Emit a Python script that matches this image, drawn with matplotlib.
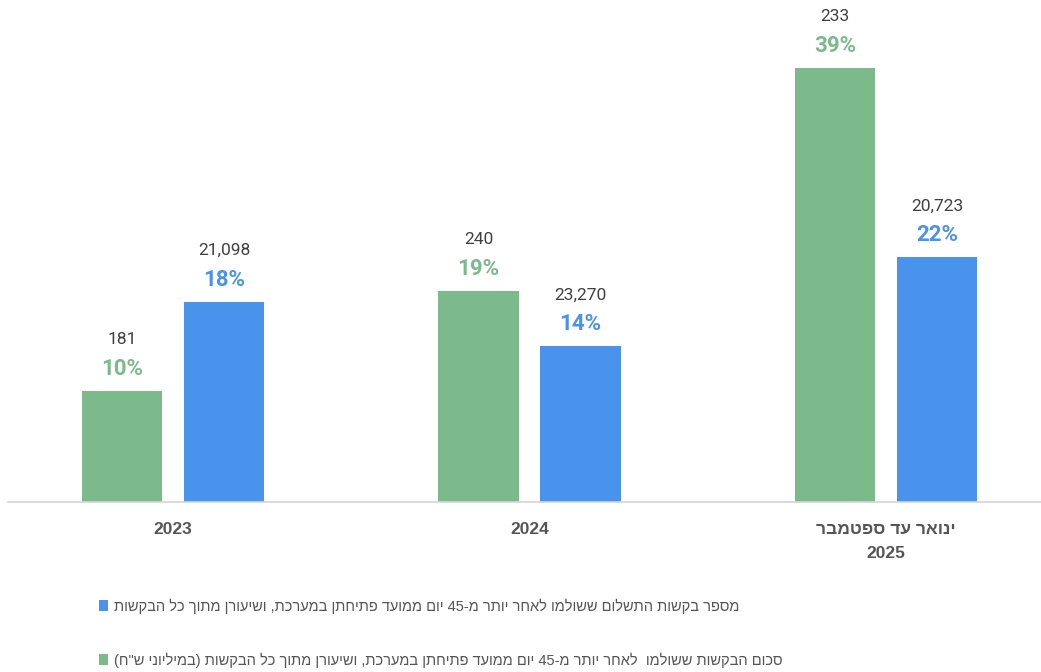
import re
import matplotlib
matplotlib.use('Agg')
import matplotlib.pyplot as plt
import numpy as np

# data
periods = ['2023', '2024', 'ינואר עד ספטמבר\n2025']
amount_millions = [181, 240, 233]      # green, in millions NIS
amount_share = [10, 19, 39]            # green, % of all requests
count_requests = [21098, 23270, 20723] # blue, number of requests
count_share = [18, 14, 22]             # blue, % of all requests

legend_count = 'מספר בקשות התשלום ששולמו לאחר יותר מ-45 יום ממועד פתיחתן במערכת, ושיעורן מתוך כל הבקשות'
legend_amount = 'סכום הבקשות ששולמו  לאחר יותר מ-45 יום ממועד פתיחתן במערכת, ושיעורן מתוך כל הבקשות (במיליוני ש"ח)'

GREEN = '#7cb98b'
BLUE = '#4a93ec'
GRAY = '#555555'
HEB = ['Liberation Sans', 'DejaVu Sans']


def rtl(s):
    # matplotlib does no bidi, so put each line in visual order by hand
    out = []
    for line in s.split('\n'):
        rev = line[::-1]
        rev = re.sub(r'[0-9]+', lambda m: m.group(0)[::-1], rev)
        rev = rev.translate(str.maketrans('()', ')('))
        out.append(rev)
    return '\n'.join(out)


W, H = 1041, 672
fig = plt.figure(figsize=(W / 100, H / 100), dpi=100)
ax = fig.add_axes([8 / W, 170 / H, (W - 8) / W, 502 / H])

x = np.arange(len(periods))
width = 0.227
off = 0.143

green_bars = ax.bar(x - off, amount_share, width, color=GREEN)
blue_bars = ax.bar(x + off, count_share, width, color=BLUE)

for xi, share, val in zip(x - off, amount_share, amount_millions):
    ax.annotate(f'{share}%', (xi, share), xytext=(0, 22), textcoords='offset pixels',
                ha='center', va='center', fontsize=16, fontweight='bold', color=GREEN,
                family='Roboto')
    ax.annotate(f'{val:,}', (xi, share), xytext=(0, 51), textcoords='offset pixels',
                ha='center', va='center', fontsize=12.5, color='#404040', family='Roboto')

for xi, share, val in zip(x + off, count_share, count_requests):
    ax.annotate(f'{share}%', (xi, share), xytext=(0, 22), textcoords='offset pixels',
                ha='center', va='center', fontsize=16, fontweight='bold', color=BLUE,
                family='Roboto')
    ax.annotate(f'{val:,}', (xi, share), xytext=(0, 51), textcoords='offset pixels',
                ha='center', va='center', fontsize=12.5, color='#404040', family='Roboto')

ax.set_xlim(-0.4628, 2.4348)
ax.set_ylim(0, 45.1)
ax.set_yticks([])
ax.set_xticks(x)
ax.set_xticklabels([rtl(p) for p in periods], fontsize=12.5, fontweight='bold',
                   color=GRAY, family=HEB, linespacing=1.75)
ax.tick_params(axis='x', length=0, pad=14.5)
for side in ['top', 'left', 'right']:
    ax.spines[side].set_visible(False)
ax.spines['bottom'].set_color('#d6d6d6')
ax.spines['bottom'].set_linewidth(1.2)

fig.legend([blue_bars, green_bars], [rtl(legend_count), rtl(legend_amount)],
           loc='center left', bbox_to_anchor=(99 / W, 39 / H), frameon=False,
           prop=dict(family=HEB, size=10.5), labelcolor=GRAY, labelspacing=2.65,
           handlelength=0.6, handleheight=0.8, handletextpad=0.4,
           borderpad=0, borderaxespad=0)

fig.savefig('out.png', dpi=100)
